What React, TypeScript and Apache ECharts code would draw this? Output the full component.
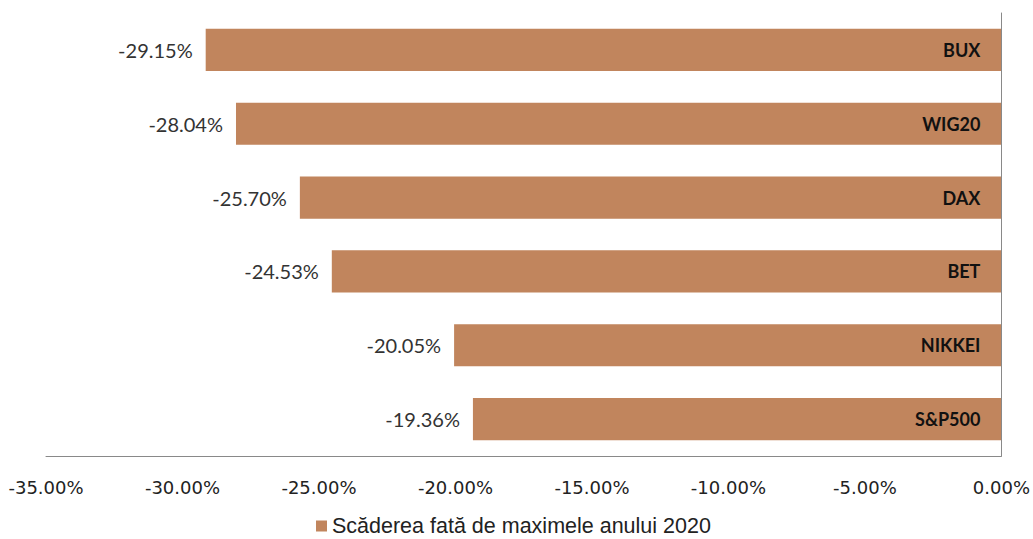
import React, { useEffect, useRef } from "react";
import * as echarts from "echarts";

const categories = ["BUX", "WIG20", "DAX", "BET", "NIKKEI", "S&P500"];
const values = [-29.15, -28.04, -25.7, -24.53, -20.05, -19.36];
const seriesName = "Scăderea fată de maximele anului 2020";
const axisMin = -35;
const axisMax = 0;
const axisStep = 5;

export default function App() {
  const ref = useRef<HTMLDivElement>(null);
  useEffect(() => {
    if (!ref.current) return;
    const chart = echarts.init(ref.current, null, { renderer: "svg" });
    chart.setOption({
      animation: false,
      backgroundColor: "#ffffff",
      grid: { left: 46, right: 29, top: 13, bottom: 83 },
      legend: {
        data: [seriesName],
        left: 316,
        top: 515,
        padding: 0,
        icon: "rect",
        itemWidth: 11,
        itemHeight: 11,
        itemGap: 5,
        textStyle: {
          fontFamily: "Liberation Sans",
          fontSize: 21.5,
          lineHeight: 22,
          color: "#222",
        },
      },
      xAxis: {
        type: "value",
        min: axisMin,
        max: axisMax,
        interval: axisStep,
        splitLine: { show: false },
        axisLine: { show: true, lineStyle: { color: "#898989", width: 1 } },
        axisTick: { show: false },
        axisLabel: {
          margin: 22,
          fontFamily: "DejaVu Sans",
          fontSize: 18,
          color: "#222",
          formatter: (v: number) => v.toFixed(2) + "%",
        },
      },
      yAxis: {
        type: "category",
        data: categories,
        inverse: true,
        position: "right",
        z: 10,
        axisLine: { show: true, onZero: false, lineStyle: { color: "#898989", width: 1 } },
        axisTick: { show: false },
        axisLabel: {
          inside: true,
          margin: 21,
          fontFamily: "Lato",
          fontWeight: "bold",
          fontSize: 18,
          color: "#111",
        },
      },
      series: [
        {
          name: seriesName,
          type: "bar",
          data: values,
          barWidth: "57%",
          z: 2,
          itemStyle: { color: "#C1855D" },
          label: {
            show: true,
            position: "left",
            distance: 13,
            fontFamily: "Lato",
            fontSize: 20,
            color: "#333",
            formatter: (p: any) => p.value.toFixed(2) + "%",
          },
        },
      ],
    });
    return () => chart.dispose();
  }, []);
  return (
    <div
      ref={ref}
      style={{ position: "fixed", left: 0, top: 0, width: 1033, height: 539 }}
    />
  );
}
